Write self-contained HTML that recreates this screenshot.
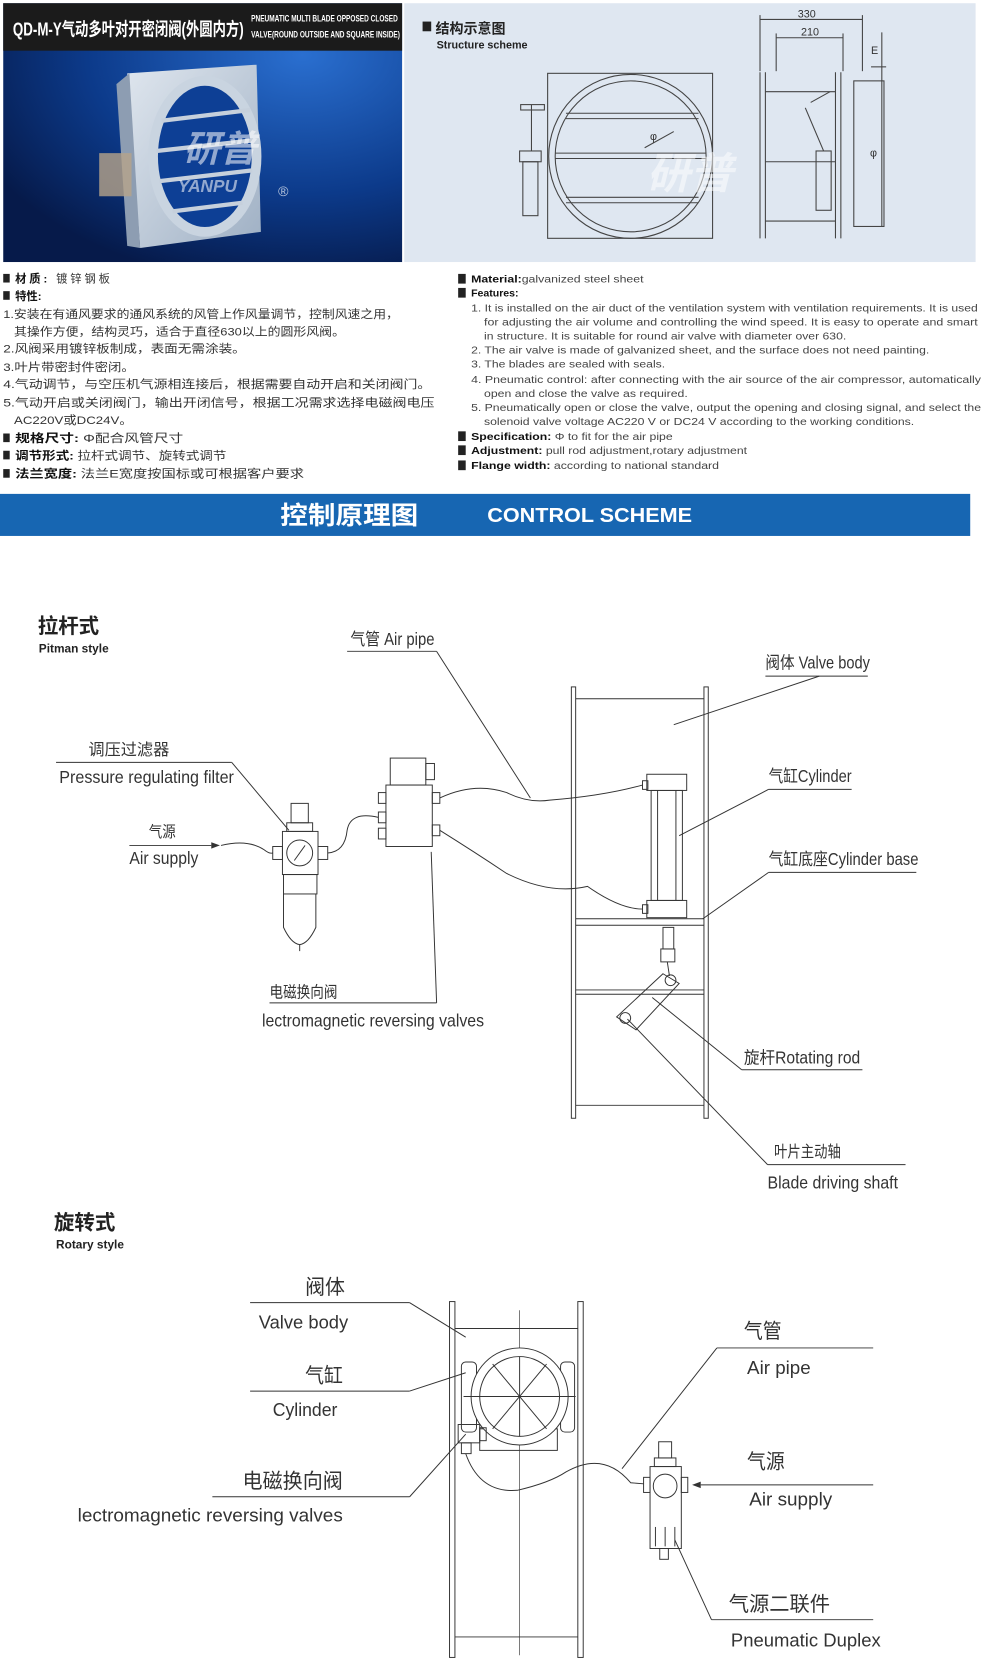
<!DOCTYPE html>
<html><head><meta charset="utf-8"><style>
html,body{margin:0;padding:0;background:#fff;width:981px;height:1679px;overflow:hidden}
svg{display:block}
.cn{font-family:"Liberation Sans","Noto Sans CJK SC",sans-serif}
.nr{font-family:"Liberation Sans","Noto Sans CJK SC",sans-serif}
</style></head><body>
<svg width="981" height="1679" viewBox="0 0 910 1557" preserveAspectRatio="none" xmlns="http://www.w3.org/2000/svg">
<defs>
<radialGradient id="bg" cx="0.75" cy="0.2" r="0.9"><stop offset="0" stop-color="#2a6fd0"/><stop offset="0.6" stop-color="#0c3a8a"/><stop offset="1" stop-color="#061a4a"/></radialGradient>
<linearGradient id="met" x1="0" y1="0" x2="1" y2="1"><stop offset="0" stop-color="#dfe6ee"/><stop offset="1" stop-color="#9fb0c4"/></linearGradient>
</defs>
<!-- photo panel -->
<rect x="3" y="3" width="370" height="240" fill="url(#bg)"/>
<rect x="3" y="3" width="370" height="44" fill="#1b1b1b"/>
<text x="12" y="33" class="cn" font-size="17" font-weight="bold" fill="#fff" textLength="214" lengthAdjust="spacingAndGlyphs">QD-M-Y气动多叶对开密闭阀(外圆内方)</text>
<text x="233" y="20" class="nr" font-size="8.5" font-weight="bold" fill="#fff" textLength="136" lengthAdjust="spacingAndGlyphs">PNEUMATIC MULTI BLADE OPPOSED CLOSED</text>
<text x="233" y="35" class="nr" font-size="8.5" font-weight="bold" fill="#fff" textLength="138" lengthAdjust="spacingAndGlyphs">VALVE(ROUND OUTSIDE AND SQUARE INSIDE)</text>
<polygon points="118,68 238,60 242,215 130,230" fill="url(#met)"/>
<polygon points="108,78 120,68 130,230 118,228" fill="#8d9db2"/>
<ellipse cx="190" cy="145" rx="48" ry="70" fill="#0d3f95" stroke="#c9d4e0" stroke-width="9"/>
<g stroke="#c6d0dc" stroke-width="4"><line x1="150" y1="112" x2="232" y2="102"/><line x1="145" y1="140" x2="236" y2="130"/><line x1="148" y1="168" x2="234" y2="158"/><line x1="160" y1="196" x2="225" y2="188"/></g>
<rect x="92" y="142" width="30" height="40" fill="#b7a48a" opacity="0.8"/>
<text x="170" y="150" class="cn" font-size="34" font-weight="bold" fill="#fff" opacity="0.55" font-style="italic">研普</text>
<text x="165" y="178" class="cn" font-size="16" font-weight="bold" fill="#fff" opacity="0.55" font-style="italic">YANPU</text>
<text x="258" y="182" font-size="13" fill="#fff" opacity="0.7" class="cn">®</text>
<!-- structure panel -->
<rect x="375" y="3" width="530" height="240" fill="#dfe7f1"/>
<rect x="392" y="20" width="8" height="9" fill="#222"/>
<text x="404" y="31" class="cn" font-size="13" font-weight="bold" fill="#222">结构示意图</text>
<text x="405" y="45" class="nr" font-size="10" font-weight="bold" fill="#222">Structure scheme</text>
<g fill="none" stroke="#444" stroke-width="1">
<rect x="508" y="68" width="153" height="153"/>
<circle cx="585" cy="145" r="76"/><circle cx="585" cy="145" r="70"/>
<line x1="525" y1="105" x2="648" y2="105"/><line x1="525" y1="110" x2="648" y2="110"/>
<line x1="515" y1="142" x2="655" y2="142"/><line x1="515" y1="147" x2="655" y2="147"/>
<line x1="525" y1="183" x2="648" y2="183"/><line x1="525" y1="188" x2="648" y2="188"/>
<line x1="598" y1="137" x2="625" y2="122"/>
<rect x="483" y="97" width="22" height="5"/><line x1="493" y1="97" x2="493" y2="140"/>
<rect x="482" y="140" width="20" height="10"/><rect x="485" y="150" width="14" height="50"/>
<line x1="705" y1="67" x2="705" y2="221"/><line x1="710" y1="67" x2="710" y2="221"/>
<line x1="775" y1="67" x2="775" y2="221"/><line x1="780" y1="67" x2="780" y2="221"/>
<rect x="792" y="75" width="28" height="135"/>
<line x1="710" y1="85" x2="775" y2="85"/><line x1="710" y1="150" x2="775" y2="150"/><line x1="710" y1="205" x2="775" y2="205"/>
<rect x="757" y="140" width="14" height="55"/><line x1="747" y1="100" x2="764" y2="140"/><line x1="752" y1="95" x2="770" y2="85"/>
<line x1="705" y1="18" x2="800" y2="18"/><line x1="720" y1="35" x2="782" y2="35"/>
<line x1="705" y1="14" x2="705" y2="66"/><line x1="800" y1="14" x2="800" y2="66"/><line x1="720" y1="31" x2="720" y2="66"/><line x1="782" y1="31" x2="782" y2="66"/>
<line x1="818" y1="30" x2="818" y2="210"/><line x1="808" y1="62" x2="822" y2="62"/>
</g>
<g class="nr" font-size="10" fill="#333"><text x="740" y="16">330</text><text x="743" y="33">210</text><text x="808" y="50">E</text><text x="807" y="145">φ</text><text x="603" y="130">φ</text></g>
<text x="600" y="175" class="cn" font-size="40" font-weight="bold" fill="#fff" opacity="0.5" font-style="italic">研普</text>
<!-- text section -->
<g class="cn" font-size="10.5" fill="#333" lengthAdjust="spacingAndGlyphs">
<rect x="3" y="254" width="6" height="8" fill="#222"/><text x="14" y="262" textLength="88"><tspan font-weight="bold" fill="#111">材质:</tspan> 镀锌钢板</text>
<rect x="3" y="270" width="6" height="8" fill="#222"/><text x="14" y="278" font-weight="bold" fill="#111">特性:</text>
<text x="3" y="295" textLength="367" lengthAdjust="spacingAndGlyphs">1.安装在有通风要求的通风系统的风管上作风量调节，控制风速之用，</text>
<text x="13" y="311" textLength="307" lengthAdjust="spacingAndGlyphs">其操作方便，结构灵巧，适合于直径630以上的圆形风阀。</text>
<text x="3" y="327" textLength="225" lengthAdjust="spacingAndGlyphs">2.风阀采用镀锌板制成，表面无需涂装。</text>
<text x="3" y="344" textLength="122" lengthAdjust="spacingAndGlyphs">3.叶片带密封件密闭。</text>
<text x="3" y="360" textLength="397" lengthAdjust="spacingAndGlyphs">4.气动调节，与空压机气源相连接后，根据需要自动开启和关闭阀门。</text>
<text x="3" y="377" textLength="400" lengthAdjust="spacingAndGlyphs">5.气动开启或关闭阀门，输出开闭信号，根据工况需求选择电磁阀电压</text>
<text x="13" y="393" textLength="110" lengthAdjust="spacingAndGlyphs">AC220V或DC24V。</text>
<rect x="3" y="402" width="6" height="8" fill="#222"/><text x="14" y="410" textLength="156" lengthAdjust="spacingAndGlyphs"><tspan font-weight="bold" fill="#111">规格尺寸:</tspan> Φ配合风管尺寸</text>
<rect x="3" y="418" width="6" height="8" fill="#222"/><text x="14" y="426" textLength="196" lengthAdjust="spacingAndGlyphs"><tspan font-weight="bold" fill="#111">调节形式:</tspan> 拉杆式调节、旋转式调节</text>
<rect x="3" y="435" width="6" height="8" fill="#222"/><text x="14" y="443" textLength="268" lengthAdjust="spacingAndGlyphs"><tspan font-weight="bold" fill="#111">法兰宽度:</tspan> 法兰E宽度按国标或可根据客户要求</text>
</g>
<g class="nr" font-size="9.8" fill="#444">
<rect x="425" y="254" width="7" height="9" fill="#222"/><text x="437" y="262" textLength="160" lengthAdjust="spacingAndGlyphs"><tspan font-weight="bold" fill="#111">Material:</tspan>galvanized steel sheet</text>
<rect x="425" y="267" width="7" height="9" fill="#222"/><text x="437" y="275" font-weight="bold" fill="#111">Features:</text>
<text x="437" y="289" textLength="470" lengthAdjust="spacingAndGlyphs">1. It is installed on the air duct of the ventilation system with ventilation requirements. It is used</text>
<text x="449" y="302" textLength="458" lengthAdjust="spacingAndGlyphs">for adjusting the air volume and controlling the  wind speed.  It is easy to operate and smart</text>
<text x="449" y="315" textLength="336" lengthAdjust="spacingAndGlyphs">in structure. It is suitable for round air valve with diameter over 630.</text>
<text x="437" y="328" textLength="425" lengthAdjust="spacingAndGlyphs">2. The air valve is made of galvanized sheet, and the surface does not need painting.</text>
<text x="437" y="341" textLength="180" lengthAdjust="spacingAndGlyphs">3. The blades are sealed with seals.</text>
<text x="437" y="355" textLength="473" lengthAdjust="spacingAndGlyphs">4. Pneumatic control:  after connecting  with the air source of the air compressor, automatically</text>
<text x="449" y="368" textLength="189" lengthAdjust="spacingAndGlyphs">open and close the valve as required.</text>
<text x="437" y="381" textLength="473" lengthAdjust="spacingAndGlyphs">5. Pneumatically open or close the valve, output the opening and closing signal, and select the</text>
<text x="449" y="394" textLength="399" lengthAdjust="spacingAndGlyphs">solenoid valve voltage AC220 V or DC24 V according to the working conditions.</text>
<rect x="425" y="400" width="7" height="9" fill="#222"/><text x="437" y="408" textLength="187" lengthAdjust="spacingAndGlyphs"><tspan font-weight="bold" fill="#111">Specification:</tspan> Φ to fit for the air pipe</text>
<rect x="425" y="413" width="7" height="9" fill="#222"/><text x="437" y="421" textLength="256" lengthAdjust="spacingAndGlyphs"><tspan font-weight="bold" fill="#111">Adjustment:</tspan> pull rod adjustment,rotary adjustment</text>
<rect x="425" y="427" width="7" height="9" fill="#222"/><text x="437" y="435" textLength="230" lengthAdjust="spacingAndGlyphs"><tspan font-weight="bold" fill="#111">Flange width:</tspan> according to national standard</text>
</g>
<!-- banner -->
<rect x="0" y="458" width="900" height="39" fill="#1766b2"/>
<text x="260" y="486" class="cn" font-size="23" font-weight="bold" fill="#fff" textLength="128" lengthAdjust="spacingAndGlyphs">控制原理图</text>
<text x="452" y="484" class="cn" font-size="19" font-weight="bold" fill="#fff" textLength="190" lengthAdjust="spacingAndGlyphs">CONTROL SCHEME</text>
<!-- Pitman -->
<text x="35" y="587" class="cn" font-size="19" font-weight="bold" fill="#222">拉杆式</text>
<text x="36" y="605" class="cn" font-size="11" font-weight="bold" fill="#222">Pitman style</text>
<g fill="none" stroke="#333" stroke-width="0.9">
<line x1="322" y1="604" x2="405" y2="604"/><line x1="405" y1="604" x2="492" y2="740"/>
<line x1="710" y1="627" x2="805" y2="627"/><line x1="760" y1="627" x2="625" y2="672"/>
<rect x="530" y="637" width="4" height="400"/><rect x="653" y="637" width="4" height="400"/>
<line x1="534" y1="648" x2="653" y2="648"/><line x1="534" y1="852" x2="653" y2="852"/><line x1="534" y1="858" x2="653" y2="858"/>
<line x1="534" y1="918" x2="653" y2="918"/><line x1="534" y1="922" x2="653" y2="922"/><line x1="534" y1="1025" x2="653" y2="1025"/>
<rect x="600" y="718" width="37" height="15"/><rect x="600" y="835" width="37" height="16"/>
<rect x="604" y="733" width="29" height="102"/><line x1="610" y1="733" x2="610" y2="835"/><line x1="627" y1="733" x2="627" y2="835"/>
<rect x="596" y="724" width="5" height="8"/><rect x="596" y="839" width="5" height="8"/>
<line x1="713" y1="732" x2="790" y2="732"/><line x1="713" y1="732" x2="630" y2="775"/>
<line x1="713" y1="809" x2="850" y2="809"/><line x1="713" y1="809" x2="652" y2="852"/>
<rect x="615" y="860" width="10" height="20"/><rect x="613" y="880" width="13" height="12"/><line x1="619" y1="892" x2="621" y2="905"/>
<polygon points="615,903 630,912 590,955 572,943"/><circle cx="622" cy="909" r="5"/><circle cx="580" cy="944" r="5"/>
<line x1="688" y1="992" x2="800" y2="992"/><line x1="688" y1="992" x2="605" y2="925"/>
<line x1="712" y1="1080" x2="840" y2="1080"/><line x1="712" y1="1080" x2="582" y2="945"/>
<rect x="362" y="703" width="33" height="25"/><rect x="395" y="708" width="8" height="15"/>
<rect x="358" y="728" width="43" height="57"/>
<rect x="351" y="735" width="7" height="10"/><rect x="351" y="753" width="7" height="10"/><rect x="351" y="768" width="7" height="10"/>
<rect x="401" y="735" width="7" height="10"/><rect x="401" y="765" width="7" height="10"/>
<line x1="250" y1="930" x2="405" y2="930"/><line x1="405" y1="930" x2="400" y2="790"/>
<rect x="270" y="745" width="16" height="18"/><rect x="266" y="763" width="24" height="8"/>
<rect x="262" y="771" width="33" height="40"/><circle cx="278" cy="791" r="12"/><line x1="273" y1="798" x2="283" y2="784"/>
<rect x="253" y="785" width="9" height="12"/><rect x="295" y="785" width="9" height="12"/>
<rect x="263" y="811" width="31" height="18"/>
<path d="M263 829 L263 860 Q270 875 278 876 Q286 875 293 860 L293 829"/><line x1="278" y1="876" x2="278" y2="882"/>
<line x1="52" y1="707" x2="215" y2="707"/><line x1="215" y1="707" x2="268" y2="770"/>
<path d="M205 784 Q230 778 245 788 Q250 792 253 791"/>
<path d="M304 791 Q320 790 322 770 Q325 752 351 758"/>
<path d="M408 740 Q440 725 470 735 Q490 745 510 742 Q560 738 596 728"/>
<path d="M408 770 Q440 790 470 810 Q510 830 545 822 Q575 843 596 843"/>
<line x1="120" y1="784" x2="196" y2="784"/>
</g>
<polygon points="196,781 204,784 196,787" fill="#333"/>
<g class="nr" fill="#333" font-size="16" lengthAdjust="spacingAndGlyphs">
<text x="325" y="598" textLength="78" lengthAdjust="spacingAndGlyphs">气管 Air pipe</text>
<text x="710" y="620" textLength="97" lengthAdjust="spacingAndGlyphs">阀体 Valve body</text>
<text x="713" y="725" textLength="77" lengthAdjust="spacingAndGlyphs">气缸Cylinder</text>
<text x="713" y="802" textLength="139" lengthAdjust="spacingAndGlyphs">气缸底座Cylinder base</text>
<text x="82" y="700" font-size="15" textLength="75" lengthAdjust="spacingAndGlyphs">调压过滤器</text>
<text x="55" y="726" textLength="162" lengthAdjust="spacingAndGlyphs">Pressure regulating filter</text>
<text x="138" y="776" font-size="14" textLength="25" lengthAdjust="spacingAndGlyphs">气源</text>
<text x="120" y="801" textLength="64" lengthAdjust="spacingAndGlyphs">Air supply</text>
<text x="250" y="925" font-size="15" textLength="63" lengthAdjust="spacingAndGlyphs">电磁换向阀</text>
<text x="243" y="952" textLength="206" lengthAdjust="spacingAndGlyphs">lectromagnetic reversing valves</text>
<text x="690" y="986" textLength="108" lengthAdjust="spacingAndGlyphs">旋杆Rotating rod</text>
<text x="718" y="1073" font-size="15" textLength="62" lengthAdjust="spacingAndGlyphs">叶片主动轴</text>
<text x="712" y="1102" textLength="121" lengthAdjust="spacingAndGlyphs">Blade driving shaft</text>
</g>
<!-- Rotary -->
<text x="50" y="1140" class="cn" font-size="19" font-weight="bold" fill="#222">旋转式</text>
<text x="52" y="1158" class="cn" font-size="11" font-weight="bold" fill="#222">Rotary style</text>
<g fill="none" stroke="#333" stroke-width="0.9">
<rect x="417" y="1207" width="5" height="330"/><rect x="536" y="1207" width="5" height="330"/>
<line x1="422" y1="1232" x2="536" y2="1232"/><line x1="422" y1="1518" x2="536" y2="1518"/>
<line x1="482" y1="1215" x2="482" y2="1535" stroke-width="0.6"/>
<rect x="428" y="1263" width="14" height="65" rx="4"/><rect x="520" y="1263" width="13" height="65" rx="4"/>
<rect x="445" y="1325" width="72" height="20"/>
<circle cx="482" cy="1295" r="45" fill="#fff"/><circle cx="482" cy="1295" r="37"/>
<line x1="457" y1="1265" x2="507" y2="1325"/><line x1="507" y1="1265" x2="457" y2="1325"/>
<line x1="482" y1="1258" x2="482" y2="1332"/><line x1="430" y1="1295" x2="534" y2="1295"/>
<rect x="425" y="1321" width="20" height="17"/><rect x="445" y="1324" width="6" height="12"/><rect x="428" y="1338" width="9" height="10"/>
<line x1="232" y1="1208" x2="380" y2="1208"/><line x1="380" y1="1208" x2="432" y2="1240"/>
<line x1="232" y1="1290" x2="380" y2="1290"/><line x1="380" y1="1290" x2="432" y2="1273"/>
<line x1="197" y1="1388" x2="380" y2="1388"/><line x1="380" y1="1388" x2="432" y2="1330"/>
<line x1="665" y1="1250" x2="810" y2="1250"/><line x1="665" y1="1250" x2="577" y2="1362"/>
<line x1="660" y1="1502" x2="810" y2="1502"/><line x1="660" y1="1502" x2="626" y2="1428"/>
<path d="M432 1348 Q445 1385 480 1382 Q510 1375 525 1365 Q560 1345 585 1375 L597 1376"/>
<rect x="611" y="1337" width="12" height="15"/><rect x="607" y="1352" width="20" height="8"/>
<rect x="603" y="1360" width="29" height="76"/><circle cx="617" cy="1378" r="11"/>
<rect x="597" y="1370" width="6" height="14"/><rect x="632" y="1370" width="6" height="14"/>
<line x1="608" y1="1416" x2="608" y2="1434"/><line x1="617" y1="1416" x2="617" y2="1434"/><line x1="626" y1="1416" x2="626" y2="1434"/>
<rect x="612" y="1436" width="8" height="10"/>
<line x1="650" y1="1377" x2="810" y2="1377"/>
</g>
<polygon points="650,1374 642,1377 650,1380" fill="#333"/>
<g class="nr" fill="#333" font-size="17">
<text x="283" y="1200" font-size="19" textLength="37" lengthAdjust="spacingAndGlyphs">阀体</text>
<text x="240" y="1232" textLength="83" lengthAdjust="spacingAndGlyphs">Valve body</text>
<text x="283" y="1282" font-size="19" textLength="35" lengthAdjust="spacingAndGlyphs">气缸</text>
<text x="253" y="1313" textLength="60" lengthAdjust="spacingAndGlyphs">Cylinder</text>
<text x="225" y="1380" font-size="19" textLength="93" lengthAdjust="spacingAndGlyphs">电磁换向阀</text>
<text x="72" y="1411" textLength="246" lengthAdjust="spacingAndGlyphs">lectromagnetic reversing valves</text>
<text x="690" y="1241" font-size="19" textLength="35" lengthAdjust="spacingAndGlyphs">气管</text>
<text x="693" y="1274" textLength="59" lengthAdjust="spacingAndGlyphs">Air pipe</text>
<text x="693" y="1362" font-size="19" textLength="35" lengthAdjust="spacingAndGlyphs">气源</text>
<text x="695" y="1396" textLength="77" lengthAdjust="spacingAndGlyphs">Air supply</text>
<text x="676" y="1494" font-size="19" textLength="94" lengthAdjust="spacingAndGlyphs">气源二联件</text>
<text x="678" y="1527" textLength="139" lengthAdjust="spacingAndGlyphs">Pneumatic Duplex</text>
</g>
</svg>
</body></html>
